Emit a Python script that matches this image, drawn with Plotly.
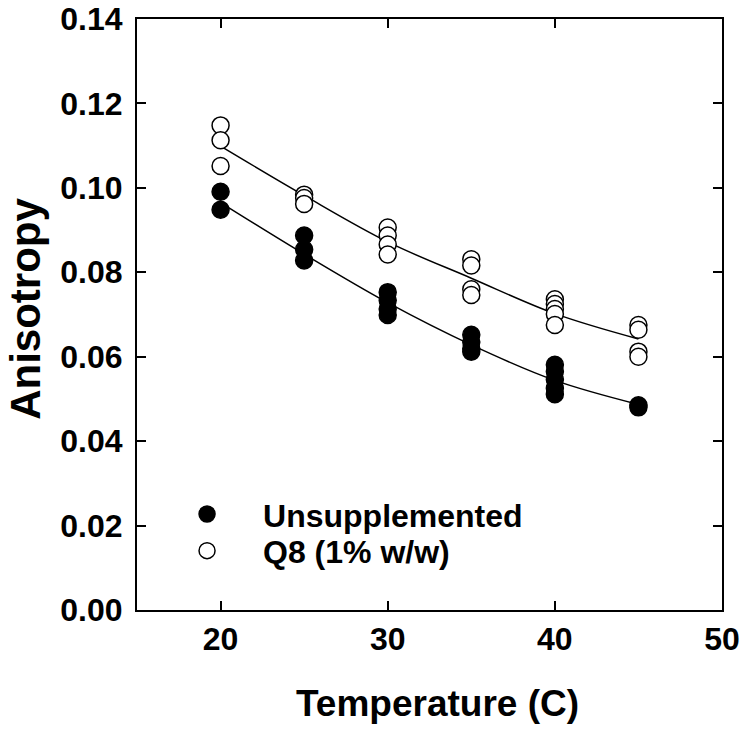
import plotly.graph_objects as go

# Measured data (Temperature in C, anisotropy)
unsup_x = [20, 20, 25, 25, 25, 30, 30, 30, 30, 35, 35, 35, 35, 40, 40, 40, 40, 40, 45, 45]
unsup_y = [0.0991, 0.0948, 0.0887, 0.0854, 0.0828, 0.0753, 0.0734, 0.0713, 0.0699,
           0.0652, 0.0635, 0.0619, 0.0612, 0.0581, 0.0565, 0.0546, 0.0525, 0.0511,
           0.0485, 0.0480]
q8_x = [20, 20, 20, 25, 25, 25, 30, 30, 30, 30, 35, 35, 35, 35, 40, 40, 40, 40, 40, 45, 45, 45, 45]
q8_y = [0.1148, 0.1113, 0.1052, 0.0984, 0.0976, 0.0962, 0.0906, 0.0887, 0.0866, 0.0842,
        0.0831, 0.0816, 0.0760, 0.0746, 0.0736, 0.0725, 0.0713, 0.0701, 0.0675,
        0.0675, 0.0664, 0.0612, 0.0600]

# Fitted curves
fit_x = [20, 25, 30, 35, 40, 45]
unsup_fit = [0.0965, 0.0843, 0.0728, 0.0628, 0.0544, 0.0487]
q8_fit = [0.1099, 0.0982, 0.0872, 0.0786, 0.0702, 0.0642]

x_ticks = [20, 30, 40, 50]
y_ticks = [0.00, 0.02, 0.04, 0.06, 0.08, 0.10, 0.12, 0.14]

FONT = "Liberation Sans, Arial, sans-serif"

fig = go.Figure()
fig.add_trace(go.Scatter(x=fit_x, y=q8_fit, mode="lines", line=dict(color="black", width=1.5, shape="spline"),
                         showlegend=False, hoverinfo="skip"))
fig.add_trace(go.Scatter(x=fit_x, y=unsup_fit, mode="lines", line=dict(color="black", width=1.5, shape="spline"),
                         showlegend=False, hoverinfo="skip"))
fig.add_trace(go.Scatter(x=unsup_x, y=unsup_y, mode="markers", name="<b>Unsupplemented</b>", legend="legend",
                         marker=dict(size=17, color="black", line=dict(color="black", width=1.5))))
fig.add_trace(go.Scatter(x=q8_x, y=q8_y, mode="markers", name="<b>Q8 (1% w/w)</b>", legend="legend2",
                         marker=dict(size=17, color="white", line=dict(color="black", width=1.5))))

axis_common = dict(showline=True, linecolor="black", linewidth=2, mirror="ticks", ticks="inside",
                   ticklen=9, tickwidth=1.5, tickcolor="black", showgrid=False, zeroline=False,
                   ticklabeloverflow="allow", automargin=False,
                   tickfont=dict(family=FONT, size=32, color="black", weight="bold"))

legend_common = dict(xanchor="left", yanchor="top", bgcolor="rgba(0,0,0,0)",
                     font=dict(family=FONT, size=32, color="black"), itemwidth=102)

fig.update_layout(
    width=750, height=731,
    margin=dict(l=137, r=28, t=19, b=121, autoexpand=False),
    paper_bgcolor="white", plot_bgcolor="white",
    font=dict(family=FONT, color="black"),
    xaxis=dict(range=[15, 50], tickvals=x_ticks, ticktext=[str(v) for v in x_ticks], **axis_common),
    yaxis=dict(range=[-0.00001, 0.14001], tickvals=y_ticks, ticktext=[f"{v:.2f}" for v in y_ticks],
               ticklabelstandoff=6, **axis_common),
    legend=dict(x=0.024, y=0.2086, **legend_common),
    legend2=dict(x=0.024, y=0.1466, **legend_common),
    annotations=[
        dict(text="<b>Temperature (C)</b>", xref="paper", yref="paper", x=0.5145, y=-0.158,
             xanchor="center", yanchor="middle", showarrow=False,
             font=dict(family=FONT, size=37, color="black")),
        dict(text="<b>Anisotropy</b>", xref="paper", yref="paper", x=-0.191, y=0.51,
             xanchor="center", yanchor="middle", textangle=-90, showarrow=False,
             font=dict(family=FONT, size=42, color="black")),
    ],
)

fig.write_html("out.html", config={"displayModeBar": False},
               post_script="document.body.style.margin='0';document.body.style.overflow='hidden';")
